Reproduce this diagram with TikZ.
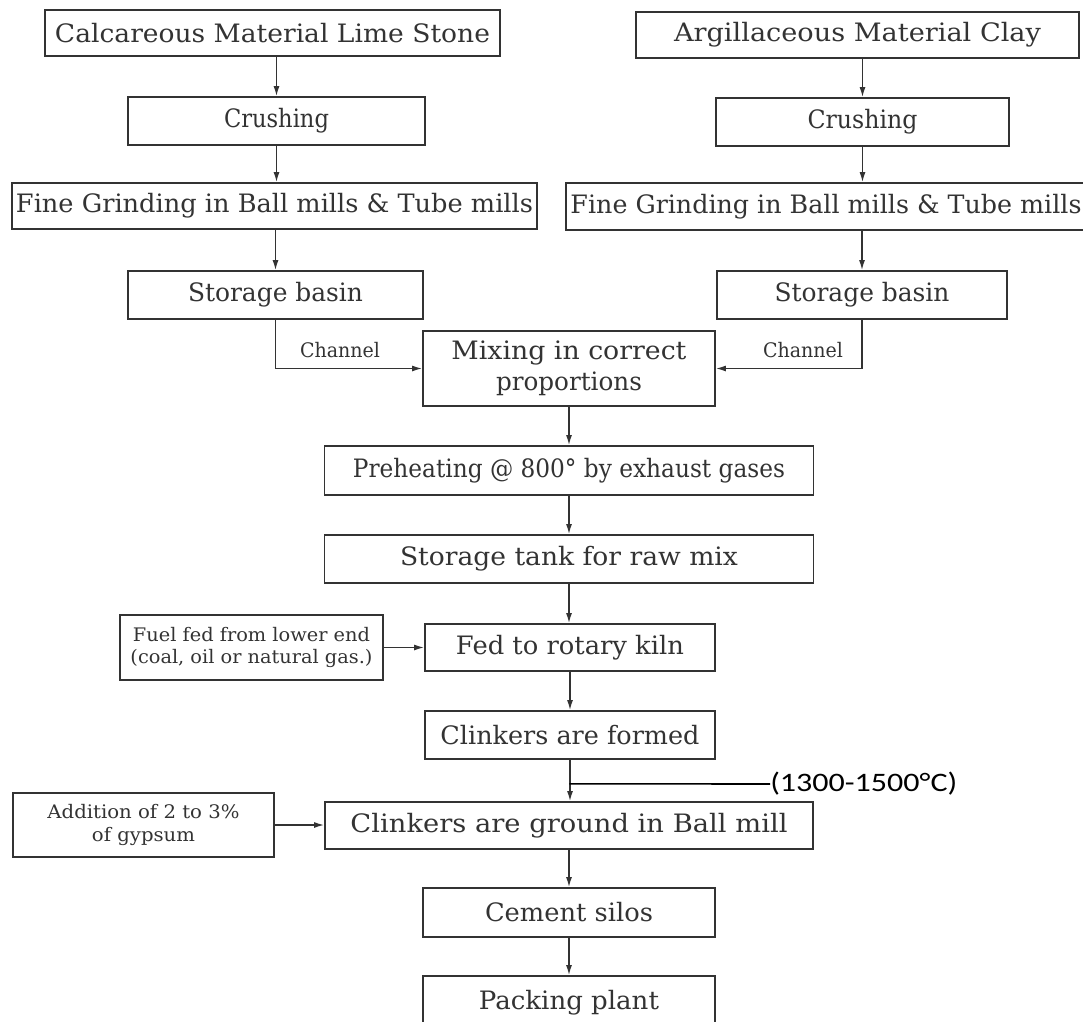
\documentclass[tikz,border=0pt]{standalone}
\usepackage{fontspec}
\setmainfont{DejaVu Serif}
\newfontfamily\calib{Carlito}
\usepackage{graphicx}
\usetikzlibrary{arrows.meta,calc}

\definecolor{ink}{HTML}{333333}
\newlength\pxu
\setlength\pxu{0.75pt}
% stretch a label horizontally to a given width, keeping its natural height
\newcommand\hfit[2]{\resizebox{#1\pxu}{\height}{#2}}

\begin{document}
\begin{tikzpicture}[x=0.75pt,y=-0.75pt,
  box/.style={draw=ink, line width=1.4pt, inner sep=0pt, text=ink},
  sz/.style n args={2}{minimum width=#1*0.75pt, minimum height=#2*0.75pt},
  big/.style={font=\fontsize{19}{23}\selectfont},
  small/.style={font=\fontsize{14}{17}\selectfont},
  chan/.style={inner sep=0pt, text=ink, font=\fontsize{15}{17}\selectfont},
  arr/.style={draw=ink, line width=1pt, -{Latex[length=7.5pt,width=4.5pt]}},
  tline/.style={draw=black, line width=1.2pt}]

\useasboundingbox (0,0) rectangle (1083,1022);
\clip (0,0) rectangle (1083,1022);

% raw material lines
\node[box,sz={455}{46},big] (calc) at (272.5,33) {\hfit{435}{Calcareous Material Lime Stone}};
\node[box,sz={443}{46},big] (argi) at (857.5,35) {\hfit{367}{Argillaceous Material Clay}};
\node[box,sz={297}{48},big] (crushL) at (276.5,121) {\hfit{105}{Crushing}};
\node[box,sz={293}{48},big] (crushR) at (862.5,122) {\hfit{110}{Crushing}};
\node[box,sz={525}{46},big] (fineL) at (274.5,206) {\hfit{517}{Fine Grinding in Ball mills \& Tube mills}};
\node[box,sz={520}{47},big] (fineR) at (826,206.5) {\hfit{511}{Fine Grinding in Ball mills \& Tube mills}};
\node[box,sz={295}{48},big] (storL) at (275.5,295) {\hfit{175}{Storage basin}};
\node[box,sz={290}{48},big] (storR) at (862,295) {\hfit{175}{Storage basin}};

% main process line
\node[box,sz={292}{75},big,align=center] (mix) at (569,368.5)
  {\hfit{235}{Mixing in correct}\\\hfit{146}{proportions}};
\node[box,sz={489}{49},big] (pre) at (569,470.5) {\hfit{432}{Preheating @ 800° by exhaust gases}};
\node[box,sz={489}{48},big] (tank) at (569,559) {\hfit{338}{Storage tank for raw mix}};
\node[box,sz={290}{47},big] (fed) at (570,647.5) {\hfit{228}{Fed to rotary kiln}};
\node[box,sz={263}{65},small,align=center] (fuel) at (251.5,647.5)
  {\hfit{237}{Fuel fed from lower end}\\\hfit{242}{(coal, oil or natural gas.)}};
\node[box,sz={290}{48},big] (formed) at (570,735) {\hfit{259}{Clinkers are formed}};
\node[box,sz={488}{47},big] (ground) at (569,825.5) {\hfit{437}{Clinkers are ground in Ball mill}};
\node[box,sz={261}{64},small,align=center] (add) at (143.5,825)
  {\hfit{192}{Addition of 2 to 3\%}\\\hfit{103}{of gypsum}};
\node[box,sz={292}{49},big] (silos) at (569,912.5) {\hfit{168}{Cement silos}};
\node[box,sz={292}{54},big] (pack) at (569,1003) {\hfit{180}{Packing plant}};

% channel labels
\node[chan] (chL) at (340,350) {\hfit{80}{Channel}};
\node[chan] (chR) at (803,350) {\hfit{80}{Channel}};

% kiln temperature note
\node[inner sep=0pt, anchor=west, text=black, font=\calib\fontsize{20}{22}\selectfont] (temp) at (770,784)
  {\hfit{187}{(1300-1500°C)}};
\coordinate (tj) at ($(formed.south)!0.58!(ground.north)$);

% left column
\draw[arr] (crushL.north |- calc.south) -- (crushL.north);
\draw[arr] (crushL.south) -- (crushL.south |- fineL.north);
\draw[arr] (storL.north |- fineL.south) -- (storL.north);
% right column
\draw[arr] (crushR.north |- argi.south) -- (crushR.north);
\draw[arr] (crushR.south) -- (crushR.south |- fineR.north);
\draw[arr] (storR.north |- fineR.south) -- (storR.north);
% channels into the mixer
\draw[arr] (storL.south) |- (mix.west);
\draw[arr] (storR.south) |- (mix.east);
% centre column
\draw[arr] (mix.south) -- (mix.south |- pre.north);
\draw[arr] (pre.south) -- (pre.south |- tank.north);
\draw[arr] (tank.south) -- (tank.south |- fed.north);
\draw[arr] (fed.south) -- (fed.south |- formed.north);
\draw[arr] (formed.south) -- (formed.south |- ground.north);
\draw[arr] (ground.south) -- (ground.south |- silos.north);
\draw[arr] (silos.south) -- (silos.south |- pack.north);
% side feeds
\draw[arr] (fuel.east) -- (fuel.east -| fed.west);
\draw[arr] (add.east) -- (add.east -| ground.west);
\draw[tline] (tj) -- (temp.west);
\end{tikzpicture}
\end{document}
